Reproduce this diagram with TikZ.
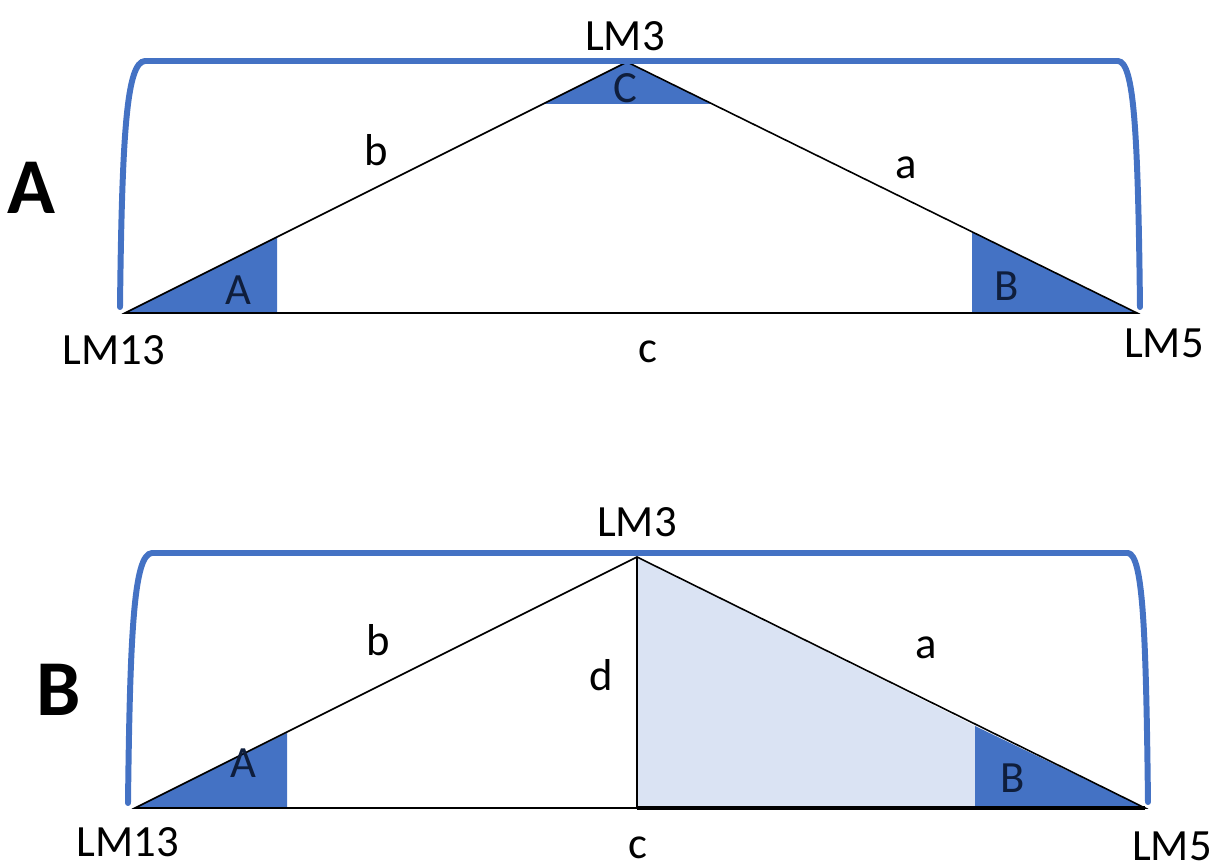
\documentclass[tikz,border=0pt]{standalone}
\usepackage{fontspec}
\setmainfont{Carlito}
\usetikzlibrary{calc, positioning}

\definecolor{bracketblue}{HTML}{4472C4}
\definecolor{fillblue}{HTML}{4472C4}
\definecolor{paleblue}{HTML}{DAE3F3}
\definecolor{labelnavy}{HTML}{0F1E3C}

\tikzset{
  lbl/.style={font=\fontsize{12.7}{15}\selectfont, inner sep=0pt},
  anglbl/.style={lbl, text=labelnavy},
  panel/.style={font=\fontsize{22.5}{26}\selectfont\bfseries, inner sep=0pt},
  brace/.style={bracketblue, line width=1.7pt, line cap=round},
  side/.style={black, line width=0.45pt},
}

\begin{document}
\begin{tikzpicture}[x=0.01cm, y=-0.01cm]
\useasboundingbox (0,0) rectangle (1220,867);

% ---- panel A ----
\coordinate (A13) at (125,313);
\coordinate (A3) at (627,62);
\coordinate (A5) at (1137,313);
\coordinate (Aa) at (277,313);
\coordinate (Ab) at (277,237);
\coordinate (Ac) at (543,104);
\coordinate (Ad) at (713,104);
\coordinate (Ae) at (972,232);
\coordinate (Af) at (972,313);

\fill[fillblue] (A13) -- (Aa) -- (Ab) -- cycle;
\fill[fillblue] (Ac) -- (A3) -- (Ad) -- cycle;
\fill[fillblue] (Ae) -- (A5) -- (Af) -- cycle;

\draw[side] (A13) -- (A3) -- (A5) -- cycle;

\draw[brace] (120,307) .. controls (122,130) and (127,62) .. (145,61)
    -- (1118,61) .. controls (1134,62) and (1138,130) .. (1140,307);

\node[panel] (pA) at (31,188) {A};
\node[lbl] (tA3) at (625,36) {LM3};
\node[lbl] (tA13) at (114,350) {LM13};
\node[lbl] (tA5) at (1164,343) {LM5};
\node[lbl] (tAc) at (648,352) {c};
\node[lbl] (tAb) at (376,150) {b};
\node[lbl] (tAa) at (906,168) {a};
\node[anglbl] (gAA) at (238,290) {A};
\node[anglbl] (gAB) at (1007,286) {B};
\node[anglbl] (gAC) at (625,88) {C};

% ---- panel B ----
\coordinate (B13) at (135,808);
\coordinate (B3) at (637,557);
\coordinate (B5) at (1145,808);
\coordinate (Bd) at (637,808);
\coordinate (Ba) at (287,808);
\coordinate (Bb) at (287,733);
\coordinate (Be) at (975,726);
\coordinate (Bf) at (975,808);

\fill[paleblue] (B3) -- (Be) -- (Bf) -- (Bd) -- cycle;
\fill[fillblue] (B13) -- (Ba) -- (Bb) -- cycle;
\fill[fillblue] (Be) -- (B5) -- (Bf) -- cycle;

\draw[side] (B13) -- (B3) -- (B5) -- cycle;
\draw[side] (B3) -- (Bd);
\draw[black, line width=0.9pt] (Bd) -- (B5);

\draw[brace] (128,803) .. controls (130,630) and (134,554) .. (152,553)
    -- (1128,553) .. controls (1143,555) and (1146,630) .. (1148,802);

\node[panel] (pB) at (59,690) {B};
\node[lbl] (tB3) at (637,522) {LM3};
\node[lbl] (tB13) at (128,842) {LM13};
\node[lbl] (tB5) at (1172,846) {LM5};
\node[lbl] (tBc) at (638,848) {c};
\node[lbl] (tBb) at (378,640) {b};
\node[lbl] (tBd) at (601,675) {d};
\node[lbl] (tBa) at (926,648) {a};
\node[anglbl] (gBA) at (243,763) {A};
\node[anglbl] (gBB) at (1013,778) {B};
\end{tikzpicture}
\end{document}
